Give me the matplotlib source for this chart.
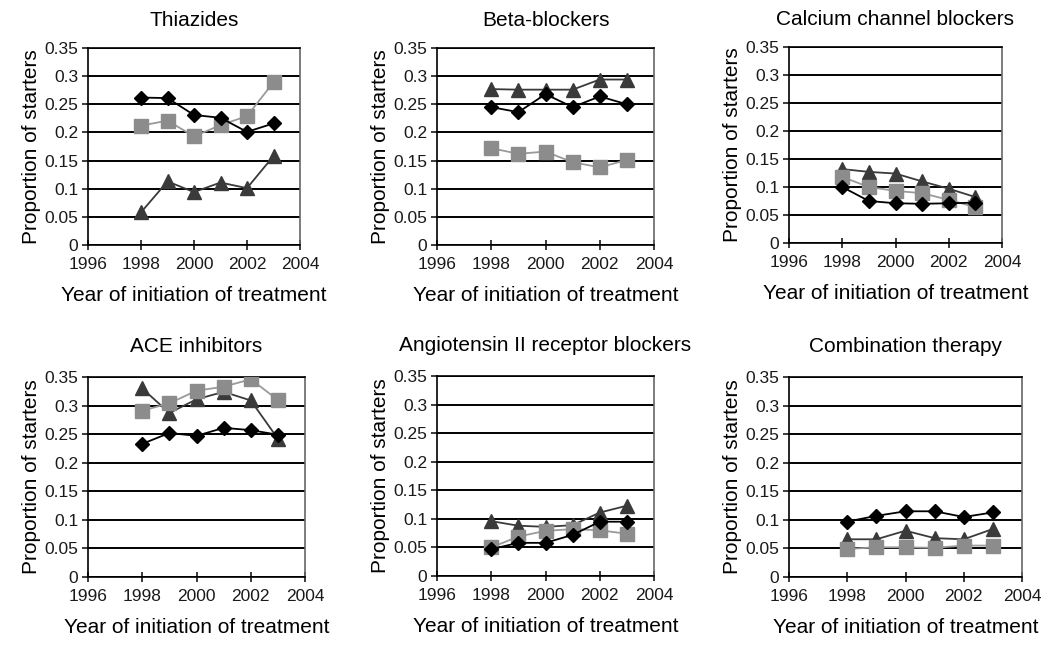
import matplotlib
matplotlib.use("Agg")
import matplotlib.pyplot as plt

plt.rcParams['font.family'] = ['Liberation Sans', 'DejaVu Sans']

years = [1998, 1999, 2000, 2001, 2002, 2003]
titles = ["Thiazides", "Beta-blockers", "Calcium channel blockers",
          "ACE inhibitors", "Angiotensin II receptor blockers", "Combination therapy"]

# three series per panel: diamond (black), square (grey), triangle (dark grey)
diamond = [
    [0.262, 0.261, 0.231, 0.226, 0.201, 0.216],
    [0.245, 0.236, 0.268, 0.245, 0.264, 0.250],
    [0.100, 0.075, 0.071, 0.070, 0.071, 0.072],
    [0.233, 0.252, 0.247, 0.261, 0.257, 0.249],
    [0.047, 0.058, 0.058, 0.072, 0.095, 0.095],
    [0.097, 0.107, 0.115, 0.115, 0.105, 0.113],
]
square = [
    [0.212, 0.221, 0.193, 0.213, 0.229, 0.289],
    [0.172, 0.162, 0.166, 0.147, 0.138, 0.151],
    [0.118, 0.100, 0.093, 0.089, 0.077, 0.064],
    [0.291, 0.304, 0.326, 0.333, 0.346, 0.310],
    [0.050, 0.069, 0.079, 0.082, 0.080, 0.074],
    [0.049, 0.052, 0.052, 0.051, 0.055, 0.055],
]
triangle = [
    [0.058, 0.113, 0.094, 0.111, 0.101, 0.158],
    [0.277, 0.276, 0.276, 0.276, 0.294, 0.294],
    [0.132, 0.127, 0.124, 0.110, 0.097, 0.082],
    [0.330, 0.287, 0.311, 0.324, 0.309, 0.242],
    [0.096, 0.088, 0.086, 0.089, 0.111, 0.123],
    [0.066, 0.066, 0.081, 0.068, 0.066, 0.084],
]

# axes boxes in pixels: left, right, top, bottom
boxes = [
    (88, 300, 48, 245),
    (437, 654, 48, 245),
    (789, 1002, 47, 243),
    (88, 305, 377, 577),
    (437, 654, 376, 576),
    (789, 1022, 377, 577),
]

W, H = 1050, 648
fig = plt.figure(figsize=(W / 100, H / 100), dpi=100)

for i in range(6):
    l, r, t, b = boxes[i]
    ax = fig.add_axes([l / W, (H - b) / H, (r - l) / W, (b - t) / H])
    ax.set_xlim(1996, 2004)
    ax.set_ylim(0, 0.35)
    ax.set_xticks([1996, 1998, 2000, 2002, 2004])
    ax.set_yticks([0, 0.05, 0.1, 0.15, 0.2, 0.25, 0.3, 0.35])
    ax.set_yticklabels(["0", "0.05", "0.1", "0.15", "0.2", "0.25", "0.3", "0.35"])
    ax.grid(axis='y', color='black', linewidth=1.4)
    ax.set_axisbelow(True)
    for s in ax.spines.values():
        s.set_color('black')
        s.set_linewidth(1.2)
    ax.spines['right'].set_color('#666666')
    ax.tick_params(axis='both', direction='out', length=4, width=1.2,
                   labelsize=12.5, pad=3, colors='#1a1a1a')
    ax.tick_params(axis='x', direction='inout', length=7, pad=5)

    ax.plot(years, triangle[i], color='#3a3a3a', lw=1.3, marker='^', ms=10,
            mfc='#3a3a3a', mec='#3a3a3a', zorder=3)
    ax.plot(years, square[i], color='#9a9a9a', lw=1.3, marker='s', ms=9.5,
            mfc='#8c8c8c', mec='#8c8c8c', zorder=4)
    ax.plot(years, diamond[i], color='black', lw=1.3, marker='D', ms=7,
            mfc='black', mec='black', zorder=5)

    ax.set_title(titles[i], fontsize=15, pad=16 if i < 3 else 18)
    ax.set_xlabel("Year of initiation of treatment", fontsize=15, labelpad=10)
    ax.set_ylabel("Proportion of starters", fontsize=15, labelpad=2)

fig.savefig("out.png", dpi=100)
